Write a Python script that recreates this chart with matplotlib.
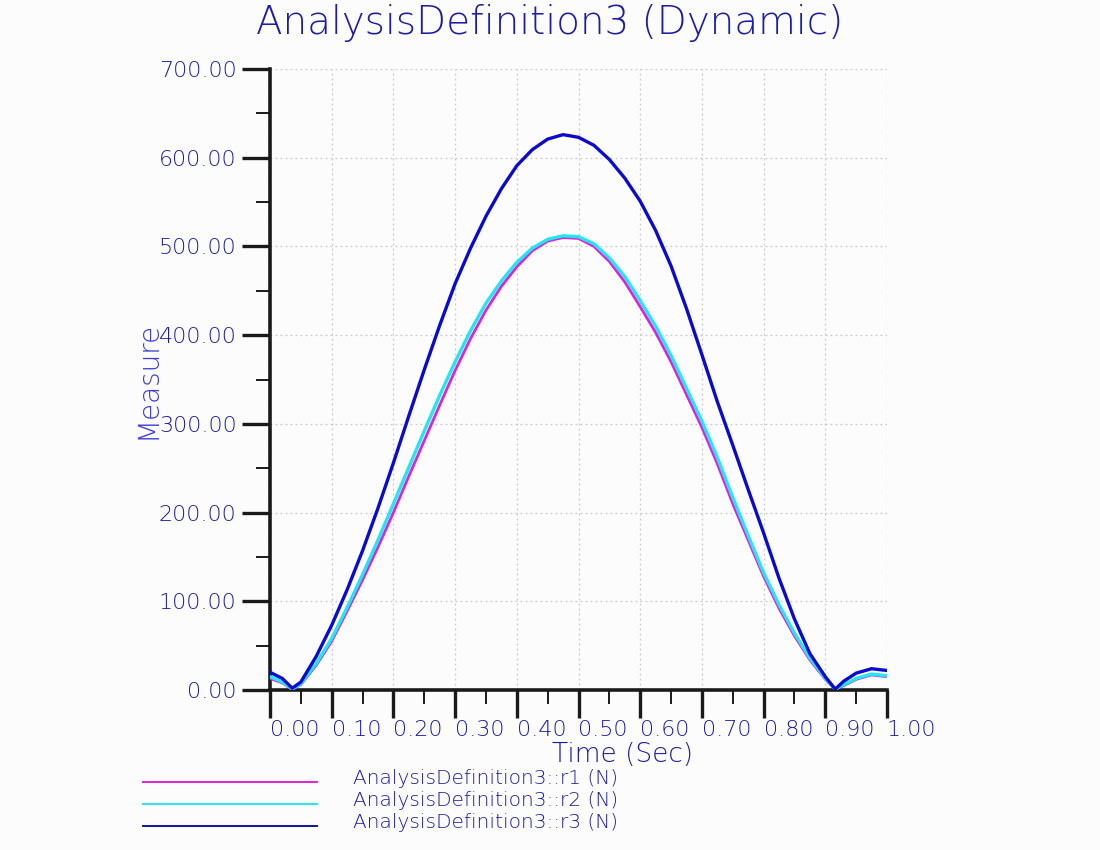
import matplotlib
matplotlib.use("Agg")
import matplotlib.pyplot as plt
from matplotlib.ticker import MultipleLocator, FormatStrFormatter

# values
time = [0.0, 0.02, 0.036, 0.05, 0.075, 0.1, 0.125, 0.15, 0.175, 0.2, 0.225,
        0.25, 0.275, 0.3, 0.325, 0.35, 0.375, 0.4, 0.425, 0.45, 0.475, 0.5,
        0.525, 0.55, 0.575, 0.6, 0.625, 0.65, 0.675, 0.7, 0.725, 0.75, 0.775,
        0.8, 0.825, 0.85, 0.875, 0.9, 0.916, 0.93, 0.95, 0.975, 1.0]

r1 = [13, 8, 1, 6, 28, 55, 89, 124, 161, 200, 241,
      281, 321, 360, 396, 428, 455, 477, 495, 506, 510, 509,
      500, 483, 460, 432, 403, 370, 333, 296, 255, 210, 169,
      128, 92, 61, 34, 12, 1, 5, 12, 17, 15]

r2 = [15, 9, 1, 7, 30, 58, 93, 130, 169, 210, 251,
      292, 332, 370, 405, 436, 461, 482, 498, 508, 512, 511,
      503, 487, 466, 439, 410, 377, 340, 303, 262, 217, 174,
      132, 96, 64, 36, 13, 1, 6, 13, 18, 16]

r3 = [20, 13, 2, 9, 38, 73, 113, 157, 205, 256, 309,
      361, 411, 458, 498, 534, 565, 591, 609, 621, 626, 623,
      614, 598, 577, 551, 518, 478, 430, 378, 325, 276, 226,
      177, 126, 80, 41, 15, 1, 10, 19, 24, 22]

series_names = ["AnalysisDefinition3::r1 (N)",
                "AnalysisDefinition3::r2 (N)",
                "AnalysisDefinition3::r3 (N)"]
series_colors = ["#dd22dd", "#22e6f0", "#0a0ad0"]
legend_colors = ["#dd22dd", "#22e6f0", "#1010a8"]

txt = "#1a1aa8"
font = ["DejaVu Sans"]
wt = 200

fig = plt.figure(figsize=(11, 8.5), dpi=100)
fig.patch.set_facecolor("#fcfcfc")
ax = fig.add_axes([270/1100, 1-690/850, 617/1100, 621/850])
ax.set_facecolor("#fcfcfc")

ax.plot(time, r1, color=series_colors[0], lw=2.0, zorder=3)
ax.plot(time, r2, color=series_colors[1], lw=2.4, zorder=4)
ax.plot(time, r3, color=series_colors[2], lw=2.4, zorder=5)

ax.set_xlim(0, 1.0)
ax.set_ylim(0, 700)
ax.xaxis.set_major_locator(MultipleLocator(0.1))
ax.xaxis.set_minor_locator(MultipleLocator(0.05))
ax.yaxis.set_major_locator(MultipleLocator(100))
ax.yaxis.set_minor_locator(MultipleLocator(50))
ax.xaxis.set_major_formatter(FormatStrFormatter("%.2f"))
ax.yaxis.set_major_formatter(FormatStrFormatter("%.2f"))

for s in ["top", "right"]:
    ax.spines[s].set_visible(False)
for s in ["left", "bottom"]:
    ax.spines[s].set_linewidth(2.6)
    ax.spines[s].set_color("#1a1a1a")

ax.tick_params(which="major", direction="out", length=20, width=2.4,
               color="#1a1a1a", labelcolor=txt, labelsize=16)
ax.tick_params(which="minor", direction="out", length=10, width=1.4,
               color="#1a1a1a")
ax.tick_params(axis="y", pad=4)
ax.tick_params(axis="x", pad=1.5)
for lab in ax.get_xticklabels():
    lab.set_horizontalalignment("left")
    lab.set_family(font)
    lab.set_fontweight(wt)
for lab in ax.get_yticklabels():
    lab.set_family(font)
    lab.set_fontweight(wt)

ax.grid(True, which="major", color="#c8c8c8", lw=0.9, ls=(0, (1.5, 2.5)))
ax.set_axisbelow(True)

fig.text(550/1100, 1-23/850, "AnalysisDefinition3 (Dynamic)", ha="center",
         va="center", fontsize=28, color="#1c1ca8", family=font,
         fontweight=wt)
fig.text(623/1100, 1-755/850, "Time (Sec)", ha="center", va="center",
         fontsize=19, color=txt, family=font, fontweight=wt)
fig.text(147/1100, 1-380/850, "Measure", ha="center", va="center",
         rotation=90, fontsize=20, color="#3a3ad8", family=font,
         fontweight=wt)

# legend drawn below the plot
for i, (name, col) in enumerate(zip(series_names, legend_colors)):
    yl = 1 - (782 + 22*i)/850
    fig.add_artist(plt.Line2D([143/1100, 317/1100], [yl, yl], color=col,
                              lw=1.4, transform=fig.transFigure))
    fig.text(353/1100, 1-(778 + 22*i)/850, name, ha="left", va="center",
             fontsize=14.5, color=txt, family=font, fontweight=wt)

plt.savefig("out.png", dpi=100, facecolor=fig.get_facecolor())
